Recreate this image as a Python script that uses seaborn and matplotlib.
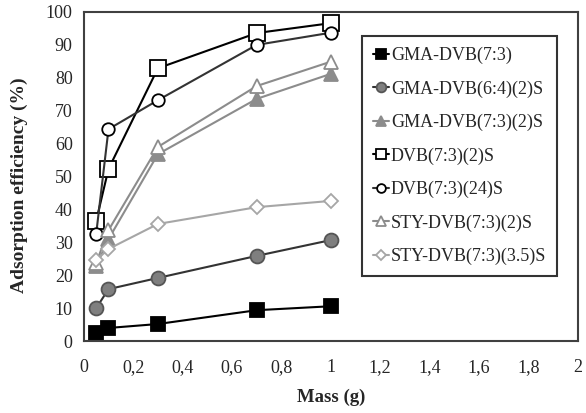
import matplotlib
matplotlib.use("Agg")
import matplotlib.pyplot as plt
import seaborn as sns
import pandas as pd

mass = [0.05, 0.1, 0.3, 0.7, 1.0]

names = ["GMA-DVB(7:3)", "GMA-DVB(6:4)(2)S", "GMA-DVB(7:3)(2)S",
         "DVB(7:3)(2)S", "DVB(7:3)(24)S", "STY-DVB(7:3)(2)S",
         "STY-DVB(7:3)(3.5)S"]

gma_73 = [2.4, 4.0, 5.2, 9.4, 10.6]
gma_64_2s = [10.0, 15.8, 19.2, 25.9, 30.7]
gma_73_2s = [22.8, 31.0, 56.8, 73.6, 81.2]
dvb_2s = [36.5, 52.3, 82.9, 93.6, 96.6]
dvb_24s = [32.5, 64.4, 73.2, 90.0, 93.7]
sty_2s = [23.7, 33.7, 59.0, 77.5, 84.9]
sty_35s = [24.6, 28.0, 35.6, 40.7, 42.6]

series = [gma_73, gma_64_2s, gma_73_2s, dvb_2s, dvb_24s, sty_2s, sty_35s]

# line colour, marker, face colour, edge colour, marker size
styles = [
    ("black", "s", "black", "black", 10),
    ("#333333", "o", "#7f7f7f", "#555555", 10),
    ("#8c8c8c", "^", "#8c8c8c", "#8c8c8c", 10),
    ("black", "s", "white", "black", 11),
    ("#333333", "o", "white", "black", 9),
    ("#8c8c8c", "^", "white", "#8c8c8c", 10),
    ("#a6a6a6", "D", "white", "#a6a6a6", 7),
]

df = pd.DataFrame({
    "mass": mass * len(names),
    "eff": [v for s in series for v in s],
    "sample": [n for n in names for _ in mass],
})

sns.set_style("white")
plt.rcParams["font.family"] = ["Liberation Serif", "DejaVu Serif"]

fig = plt.figure(figsize=(5.86, 4.13), dpi=100)
ax = fig.add_axes([0.143, 0.174, 0.843, 0.797])

for name, (lc, mk, fc, ec, ms) in zip(names, styles):
    sns.lineplot(data=df[df["sample"] == name], x="mass", y="eff", ax=ax,
                 color=lc, marker=mk, markersize=ms, markerfacecolor=fc,
                 markeredgecolor=ec, markeredgewidth=1.3, linewidth=1.5,
                 label=name)

ax.set_xlim(0, 2)
ax.set_ylim(0, 100)
ax.set_xticks([0, 0.2, 0.4, 0.6, 0.8, 1, 1.2, 1.4, 1.6, 1.8, 2])
ax.set_xticklabels(["0", "0,2", "0,4", "0,6", "0,8", "1", "1,2", "1,4",
                    "1,6", "1,8", "2"])
ax.set_yticks(range(0, 101, 10))
ax.tick_params(labelsize=13, length=0)
ax.tick_params(axis="x", pad=13)
ax.tick_params(axis="y", pad=8)
ax.set_xlabel("Mass (g)", fontsize=13.5, fontweight="bold", labelpad=9)
ax.set_ylabel("Adsorption efficiency (%)", fontsize=14, fontweight="bold")
ax.yaxis.set_label_coords(-0.112, 0.474)
for sp in ax.spines.values():
    sp.set_color("#404040")
    sp.set_linewidth(1.5)

leg = ax.legend(loc="upper left", bbox_to_anchor=(0.545, 0.955),
                fontsize=13, frameon=True, fancybox=False, handlelength=0.9,
                handletextpad=0.1, labelspacing=0.9, borderpad=0.6,
                markerscale=0.7)
leg.get_frame().set_edgecolor("black")
leg.get_frame().set_linewidth(1.5)

fig.savefig("out.png", dpi=100)
